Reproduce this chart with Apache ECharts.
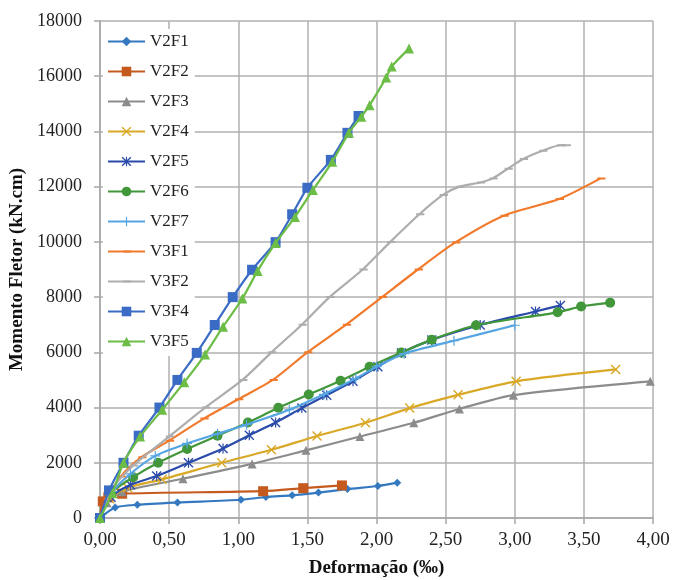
<!DOCTYPE html>
<html><head><meta charset="utf-8">
<script src="https://cdn.jsdelivr.net/npm/echarts@6/dist/echarts.min.js"></script>
<style>html,body{margin:0;padding:0;background:#fff}#c{width:675px;height:580px}</style>
</head><body><div id="c"></div>
<script>
const xTicks = [0, 0.5, 1, 1.5, 2, 2.5, 3, 3.5, 4];
const yTicks = [0, 2000, 4000, 6000, 8000, 10000, 12000, 14000, 16000, 18000];
const seriesNames = ['V2F1','V2F2','V2F3','V2F4','V2F5','V2F6','V2F7','V3F1','V3F2','V3F4','V3F5'];
const V2F1 = [[0,0],[0.11,380],[0.27,480],[0.56,560],[1.02,660],[1.20,760],[1.39,820],[1.58,920],[1.79,1050],[2.01,1160],[2.15,1280]];
const V2F2 = [[0,0],[0.02,600],[0.06,750],[0.16,880],[1.18,970],[1.47,1080],[1.75,1180]];
const V2F3 = [[0,0],[0.05,550],[0.16,950],[0.60,1420],[1.10,1960],[1.49,2450],[1.88,2950],[2.27,3450],[2.60,3950],[2.99,4450],[3.98,4950]];
const V2F4 = [[0,0],[0.07,700],[0.2,1100],[0.45,1400],[0.88,2000],[1.24,2470],[1.57,2970],[1.92,3450],[2.24,3980],[2.59,4460],[3.01,4950],[3.73,5380]];
const V2F5 = [[0,0],[0.08,750],[0.22,1200],[0.41,1520],[0.64,2000],[0.89,2520],[1.08,3000],[1.27,3460],[1.46,3980],[1.64,4450],[1.83,4950],[2.01,5480],[2.18,5980],[2.40,6450],[2.75,6990],[3.15,7480],[3.33,7700]];
const V2F6 = [[0,0],[0.08,900],[0.24,1480],[0.42,2000],[0.63,2500],[0.85,2980],[1.07,3460],[1.29,3990],[1.51,4470],[1.74,4970],[1.95,5480],[2.18,5990],[2.40,6460],[2.72,6980],[3.31,7450],[3.48,7660],[3.69,7800]];
const V2F7 = [[0,0],[0.09,950],[0.22,1600],[0.40,2250],[0.63,2700],[0.85,3050],[1.06,3380],[1.37,3920],[1.62,4480],[1.85,5050],[2.00,5480],[2.20,5950],[2.56,6420],[3.00,6980]];
const V3F1 = [[0,0],[0.05,700],[0.15,1500],[0.30,2200],[0.50,2800],[0.75,3600],[1.00,4300],[1.25,5000],[1.50,6000],[1.78,7000],[2.04,8000],[2.30,9000],[2.57,9980],[2.92,10950],[3.32,11550],[3.62,12300]];
const V3F2 = [[0,0],[0.08,1000],[0.24,1900],[0.50,2950],[0.76,4000],[1.03,5000],[1.24,6000],[1.46,7000],[1.66,8000],[1.90,9000],[2.10,10000],[2.31,11000],[2.48,11700],[2.60,12000],[2.75,12150],[2.84,12300],[2.95,12650],[3.06,13000],[3.20,13300],[3.33,13500],[3.37,13500]];
const V3F4 = [[0,0],[0.065,1000],[0.17,2000],[0.28,2980],[0.43,4000],[0.56,5000],[0.70,5980],[0.83,6990],[0.96,8000],[1.10,8990],[1.27,9990],[1.39,11000],[1.50,11960],[1.67,12970],[1.79,13950],[1.87,14560]];
const V3F5 = [[0,0],[0.09,900],[0.17,2000],[0.29,2950],[0.45,3920],[0.61,4920],[0.76,5920],[0.89,6930],[1.03,7950],[1.14,8950],[1.27,9960],[1.41,10900],[1.54,11880],[1.68,12900],[1.80,13950],[1.89,14530],[1.95,14950],[2.07,15950],[2.11,16350],[2.235,17000]];

const colors = ['#3479C0','#C55A1E','#8C8C8C','#D9A826','#2B4BAA','#41973A','#55A5E2','#F27A2C','#ADADAD','#3A6CC6','#6BBD45'];
const dataList = [V2F1,V2F2,V2F3,V2F4,V2F5,V2F6,V2F7,V3F1,V3F2,V3F4,V3F5];
const X_PATH = 'path://M0,1L1,0L5,4L9,0L10,1L6,5L10,9L9,10L5,6L1,10L0,9L4,5Z';
const PLUS_PATH = 'path://M4.4,0H5.6V4.4H10V5.6H5.6V10H4.4V5.6H0V4.4H4.4Z';
const AST_PATH = 'path://M0,1L1,0L5,4L9,0L10,1L6,5L10,9L9,10L5,6L1,10L0,9L4,5Z M4.4,0H5.6V10H4.4Z';
const DASH_PATH = 'path://M0,0L0.01,0L0,0Z M0,10L0.01,10L0,10Z M1.5,4H8.5V6H1.5Z';
const symbols = ['diamond','rect','triangle',X_PATH,AST_PATH,'circle',PLUS_PATH,DASH_PATH,DASH_PATH,'rect','triangle'];
const sizes = [8,10,9,10,10,10,10,10,10,10,10];

const series = seriesNames.map((n,i)=>({
  name:n, type:'line', data:dataList[i], smooth:0.25,
  symbol:symbols[i], symbolSize:sizes[i], showSymbol:true,
  lineStyle:{color:colors[i], width:2.2},
  itemStyle:{color:colors[i]},
  emphasis:{disabled:true}, z: 2+i
}));

const chart = echarts.init(document.getElementById('c'), null, {renderer:'canvas'});
chart.setOption({
  animation:false,
  backgroundColor:'#fff',
  color: colors,
  grid:{left:100, right:22, top:21, bottom:62, show:false, containLabel:false, outerBoundsMode:'none'},
  legend:{
    data:seriesNames, orient:'vertical', left:103, top:29,
    itemWidth:37, itemHeight:12, itemGap:13, padding:[4,6,6,4],
    backgroundColor:'#ffffff',
    textStyle:{fontFamily:'Liberation Serif', fontSize:17, color:'#222'}
  },
  xAxis:{
    type:'value', min:0, max:4, interval:0.5,
    name:'Deformação (‰)', nameLocation:'middle', nameGap:41,
    nameTextStyle:{fontFamily:'Liberation Serif', fontSize:19, fontWeight:'bold', color:'#111'},
    axisLine:{show:true, lineStyle:{color:'#a6a6a6', width:1.5}},
    axisTick:{show:true, length:6, lineStyle:{color:'#a6a6a6', width:1.5}},
    splitLine:{show:true, lineStyle:{color:'#b0b0b0', width:1.5}},
    axisLabel:{fontFamily:'Liberation Serif', fontSize:19, color:'#222', margin:13,
      formatter:v=>v.toFixed(2).replace('.',',')}
  },
  yAxis:{
    type:'value', min:0, max:18000, interval:2000,
    name:'Momento Fletor (kN.cm)', nameLocation:'middle', nameGap:73,
    nameTextStyle:{fontFamily:'Liberation Serif', fontSize:19, fontWeight:'bold', color:'#111'},
    axisLine:{show:true, lineStyle:{color:'#a6a6a6', width:1.5}},
    axisTick:{show:true, length:6, lineStyle:{color:'#a6a6a6', width:1.5}},
    splitLine:{show:true, lineStyle:{color:'#b0b0b0', width:1.5}},
    axisLabel:{fontFamily:'Liberation Serif', fontSize:18, color:'#222', margin:18,
      formatter:v=>String(v)}
  },
  series: series
});
</script></body></html>
